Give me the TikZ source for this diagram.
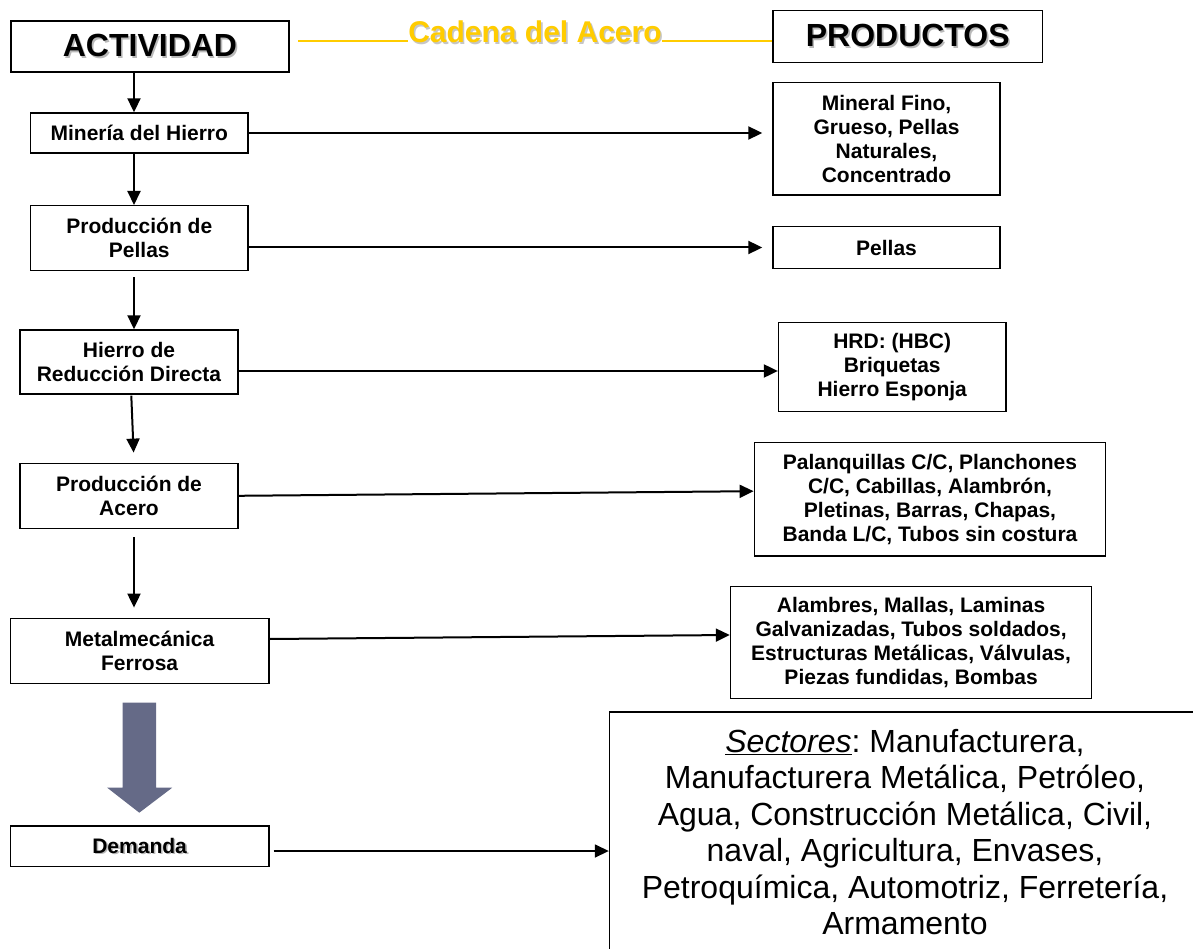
\documentclass[tikz,border=0pt]{standalone}
\usepackage{fontspec}
\setmainfont{Liberation Sans}
\usetikzlibrary{arrows.meta,calc}
\definecolor{gold}{RGB}{255,204,0}
\definecolor{slate}{RGB}{101,106,135}
\newcommand\shtext[2][gray!55]{\makebox[0pt][l]{\hspace{1.6pt}\raisebox{-1.6pt}{\textcolor{#1}{#2}}}#2}
\frenchspacing
\begin{document}
\begin{tikzpicture}[x=1pt,y=-1pt,
  box/.style={draw, line width=1.4pt, inner sep=0pt, align=center,
    font=\bfseries\fontsize{21}{24}\selectfont},
  big/.style={font=\bfseries\fontsize{32}{36}\selectfont},
  arr/.style={line width=2pt, -{Triangle[length=14pt,width=13pt]}},
  ylw/.style={draw=gold, line width=1.3pt}]
\useasboundingbox (0,0) rectangle (1193,949);

% header
\node[box, big, minimum width=278pt, minimum height=51pt] (act) at (150,46.5) {\shtext{ACTIVIDAD}};
\node[box, big, minimum width=269.5pt, minimum height=51.6pt] (prod) at (907.75,36.5) {\shtext{PRODUCTOS}};
\node[anchor=base, inner sep=0pt, text=gold, font=\bfseries\fontsize{30}{34}\selectfont] (cad) at (535,43) {\shtext[gray!45]{Cadena del Acero}};
\coordinate (cl) at (298,41);
\draw[ylw] (cl) -- (cl -| cad.west);
\draw[ylw] (cl -| cad.east) -- (cl -| prod.west);

% activities
\node[box, minimum width=217.4pt, minimum height=40pt] (min) at (139.3,133) {Minería del Hierro};
\node[box, minimum width=217.4pt, minimum height=65pt] (pel) at (139.3,238.2) {Producción de\\Pellas};
\node[box, minimum width=218pt, minimum height=64pt] (hrd) at (129,362) {Hierro de\\Reducción Directa};
\node[box, minimum width=218pt, minimum height=65pt] (acr) at (129,495.8) {Producción de\\Acero};
\node[box, minimum width=258.7pt, minimum height=65pt] (met) at (139.6,650.8) {Metalmecánica\\Ferrosa};
\node[box, minimum width=258.7pt, minimum height=40.7pt] (dem) at (139.6,846.3) {\shtext{Demanda}};

% products
\node[box, minimum width=227pt, minimum height=112.3pt] (minp) at (886.5,138.9) {Mineral Fino,\\Grueso, Pellas\\Naturales,\\Concentrado};
\node[box, minimum width=227pt, minimum height=41.6pt] (pelp) at (886.5,247.5) {Pellas};
\node[box, minimum width=227.3pt, minimum height=89.4pt] (hrdp) at (892.2,367) {HRD: (HBC)\\Briquetas\\Hierro Esponja};
\node[box, minimum width=351.4pt, minimum height=113.7pt] (acrp) at (930,499.2) {Palanquillas C/C, Planchones\\C/C, Cabillas, Alambrón,\\Pletinas, Barras, Chapas,\\Banda L/C, Tubos sin costura};
\node[box, minimum width=361.2pt, minimum height=111.6pt] (metp) at (911.1,642.5) {Alambres, Mallas, Laminas\\Galvanizadas, Tubos soldados,\\Estructuras Metálicas, Válvulas,\\Piezas fundidas, Bombas};

\node[draw, line width=1.4pt, inner sep=0pt, align=center, minimum width=591pt, minimum height=240pt,
  font=\fontsize{32}{36.5}\selectfont] (sect) at (905,832)
  {\underline{\textit{Sectores}}: Manufacturera,\\Manufacturera Metálica, Petróleo,\\Agua, Construcción Metálica, Civil,\\naval, Agricultura, Envases,\\Petroquímica, Automotriz, Ferretería,\\Armamento};

% vertical connectors
\coordinate (cx) at (134,0);
\draw[arr] (act.south -| cx) -- (min.north -| cx);
\draw[arr] (min.south -| cx) -- (pel.north -| cx);
\draw[arr, shorten <=6pt] (pel.south -| cx) -- (hrd.north -| cx);
\draw[arr, shorten >=10pt] ($(hrd.south -| cx)+(-2.7,1)$) -- (acr.north -| cx);
\draw[arr, shorten <=8pt, shorten >=10pt] (acr.south -| cx) -- (met.north -| cx);

% horizontal connectors
\draw[arr, shorten >=10pt] (min.east) -- (min.east -| minp.west);
\draw[arr, shorten >=10pt] (pel.east |- pelp.west) -- (pelp.west);
\draw[arr] ($(hrd.east)+(0,9)$) -- ($(hrdp.west)+(0,4)$);
\draw[arr] (acr.east) -- ($(acrp.west)+(0,-8)$);
\draw[arr] ($(met.east)+(0,-11.8)$) -- ($(metp.west)+(0,-7.5)$);
\coordinate (d0) at ($(dem.east)+(4,4.7)$);
\draw[arr, line width=1.6pt] (d0) -- (d0 -| sect.west);

% block arrow to Demanda
\fill[slate] (122.5,702.7) -- (156.1,702.7) -- (156.1,787.7) -- (172.2,787.7)
  -- (139.3,812.7) -- (107.2,787.7) -- (122.5,787.7) -- cycle;
\end{tikzpicture}
\end{document}
